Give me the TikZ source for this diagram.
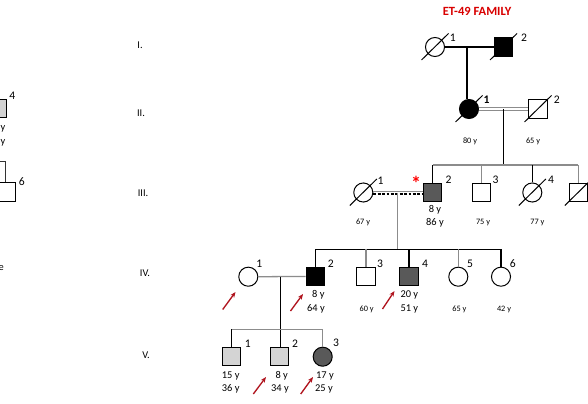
\documentclass[tikz,border=0pt]{standalone}
\usepackage{fontspec}
\setmainfont{Carlito}
\usetikzlibrary{arrows.meta}
\definecolor{linegray}{HTML}{8C8C8C}
\definecolor{darkfill}{HTML}{595959}
\definecolor{lightfill}{HTML}{D4D4D4}
\definecolor{arrowred}{HTML}{B0141E}
\tikzset{
  male/.style={draw, rectangle, minimum size=13.9pt, inner sep=0pt, line width=0.75pt},
  female/.style={draw, circle, minimum size=14.3pt, inner sep=0pt, line width=0.75pt},
  num/.style={font=\fontsize{8.7}{9}\selectfont, inner sep=0pt},
  agebig/.style={font=\fontsize{7.8}{8}\selectfont, inner sep=0pt},
  agesmall/.style={font=\fontsize{6.2}{7}\selectfont, inner sep=0pt},
  genlab/.style={font=\fontsize{7.8}{8}\selectfont, inner sep=0pt},
  blk/.style={line width=0.95pt, black},
  gry/.style={line width=0.95pt, linegray},
  deadline/.style={line width=0.75pt},
  redarrow/.style={-{Stealth[length=4.2pt,width=3.4pt]}, line width=1pt, arrowred},
}
\newcommand\deceasedmark[1]{\draw[deadline] ([shift={(-13.5,13)}]#1.center) -- ([shift={(13.5,-13.5)}]#1.center);}
\begin{document}
\begin{tikzpicture}[x=0.75pt,y=-0.75pt]
\useasboundingbox (0,0) rectangle (588,403);
\clip (0,0) rectangle (588,403);
\fill[white] (0,0) rectangle (588,403);

% title
\node[font=\fontsize{9.4}{10}\selectfont\bfseries, text=red!85!black] (title) at (477,11) {ET-49 FAMILY};

% generation labels
\node[genlab] (g1) at (140,45) {I.};
\node[genlab] (g2) at (141,113) {II.};
\node[genlab] (g3) at (143,193) {III.};
\node[genlab] (g4) at (145,273) {IV.};
\node[genlab] (g5) at (146,355) {V.};

% ---------- generation I ----------
\node[female] (i1) at (435,47) {};
\node[male, fill=black] (i2) at (503.5,47) {};
\deceasedmark{i1}
\deceasedmark{i2}
\node[num] (i1n) at (452.7,38) {1};
\node[num] (i2n) at (524,38) {2};
\coordinate (m1) at (467,47);
\draw[blk] (i1) -- (i2);

% ---------- generation II ----------
\node[female, fill=black] (ii1) at (469,109) {};
\node[male] (ii2) at (538,109) {};
\deceasedmark{ii1}
\deceasedmark{ii2}
\node[num, font=\fontsize{8.7}{9}\selectfont\bfseries] (ii1n) at (486.5,100) {1};
\node[num] (ii2n) at (556.7,100) {2};
\node[agesmall] (ii1a) at (470,141.5) {80 y};
\node[agesmall] (ii2a) at (533,141) {65 y};
\draw[blk] (m1) -- (m1 |- ii1.north);
\draw[draw=linegray, double=white, double distance=1.3pt, line width=0.6pt] (ii1) -- (ii2);
\coordinate (m2) at (503.5,109);
\coordinate (s3) at (503.5,165);
\draw[blk] (m2) -- (s3);

% ---------- generation III ----------
\node[female] (iii1) at (363.3,192.5) {};
\node[male, fill=darkfill] (iii2) at (432.5,192.5) {};
\node[male] (iii3) at (481.5,192.5) {};
\node[female] (iii4) at (532.3,192.5) {};
\node[male] (iii5) at (578.3,192.5) {};
\deceasedmark{iii1}
\deceasedmark{iii4}
\deceasedmark{iii5}
\node[num] (iii1n) at (380.5,180.5) {1};
\node[num] (iii2n) at (448.5,179.5) {2};
\node[num] (iii3n) at (495.5,179.5) {3};
\node[num] (iii4n) at (551,179.5) {4};
\node[font=\fontsize{15}{15}\selectfont\bfseries, text=red, inner sep=0pt] (star) at (416,183.5) {*};
\node[agebig] (iii2a) at (435,210) {8 y};
\node[agebig] (iii2b) at (435,222.5) {86 y};
\node[agesmall] (iii1a) at (363,222.5) {67 y};
\node[agesmall] (iii3a) at (483,223) {75 y};
\node[agesmall] (iii4a) at (537.3,223) {77 y};
\draw[gry] (iii2.north |- s3) -- (iii5.north |- s3);
\draw[blk] (iii2.north |- s3) -- (iii2.north);
\draw[gry] (iii3.north |- s3) -- (iii3.north);
\draw[blk] (iii4.north |- s3) -- (iii4.north);
\draw[gry] (iii5.north |- s3) -- (iii5.north);
% consanguineous union III-1 x III-2
\draw[linegray, line width=0.7pt] ([yshift=1.1pt]iii1.east) -- ([yshift=1.1pt]iii1.east -| iii2.west);
\draw[black, line width=1.2pt, dash pattern=on 2.2pt off 1.1pt] ([yshift=-0.9pt]iii1.east) -- ([yshift=-0.9pt]iii1.east -| iii2.west);
\coordinate (m3) at (397.7,192.5);
\coordinate (s4) at (397.7,249.3);
\draw[gry] (m3) -- (s4);

% ---------- generation IV ----------
\node[female] (iv1) at (248.3,276.7) {};
\node[male, fill=black] (iv2) at (315.5,276.5) {};
\node[male] (iv3) at (366,276.5) {};
\node[male, fill=darkfill] (iv4) at (409,276.5) {};
\node[female] (iv5) at (458.3,276.7) {};
\node[female] (iv6) at (501,276.7) {};
\node[num] (iv1n) at (259.3,263.5) {1};
\node[num] (iv2n) at (330.7,264) {2};
\node[num] (iv3n) at (380,264) {3};
\node[num] (iv4n) at (425,264) {4};
\node[num] (iv5n) at (470,264) {5};
\node[num] (iv6n) at (512.7,264) {6};
\node[agebig] (iv2a) at (318.3,295) {8 y};
\node[agebig] (iv2b) at (316,309.3) {64 y};
\node[agesmall] (iv3a) at (366.7,309.3) {60 y};
\node[agebig] (iv4a) at (409.3,295) {20 y};
\node[agebig] (iv4b) at (409.3,309.3) {51 y};
\node[agesmall] (iv5a) at (459.3,309.3) {65 y};
\node[agesmall] (iv6a) at (504,309.3) {42 y};
\draw[blk] (iv2.north |- s4) -- (iv6.north |- s4);
\draw[blk] (iv2.north |- s4) -- (iv2.north);
\draw[gry] (iv3.north |- s4) -- (iv3.north);
\draw[blk] (iv4.north |- s4) -- (iv4.north);
\draw[gry] (iv5.north |- s4) -- (iv5.north);
\draw[blk] (iv6.north |- s4) -- (iv6.north);
\draw[gry] (iv1) -- (iv2);
% probands
\coordinate (p1a) at (222.7,309.5);
\coordinate (p1b) at (235.5,292);
\coordinate (p2a) at (290.5,311);
\coordinate (p2b) at (303,294);
\coordinate (p3a) at (382.5,309);
\coordinate (p3b) at (394.5,291);
\draw[redarrow] (p1a) -- (p1b);
\draw[redarrow] (p2a) -- (p2b);
\draw[redarrow] (p3a) -- (p3b);

% ---------- generation V ----------
\node[male, fill=lightfill] (v1) at (231.3,356.7) {};
\node[male, fill=lightfill] (v2) at (279.3,356.7) {};
\node[female, fill=darkfill] (v3) at (322.7,356.7) {};
\node[num] (v1n) at (247.7,343.3) {1};
\node[num] (v2n) at (295,343.3) {2};
\node[num] (v3n) at (336,342.7) {3};
\node[agebig] (v1a) at (230.7,376) {15 y};
\node[agebig] (v1b) at (230.7,389.3) {36 y};
\node[agebig] (v2a) at (281.7,376) {8 y};
\node[agebig] (v2b) at (280,389.3) {34 y};
\node[agebig] (v3a) at (325,375.5) {17 y};
\node[agebig] (v3b) at (324,388.5) {25 y};
\coordinate (m4) at (280.5,276.7);
\coordinate (s5) at (280.5,329.3);
\draw[blk] (m4) -- (m4 |- v2.north);
\draw[gry] (v1.north |- s5) -- (v3.north |- s5);
\draw[blk] (v1.north |- s5) -- (v1.north);
\draw[gry] (v3.north |- s5) -- (v3.north);
\coordinate (p4a) at (253.3,394);
\coordinate (p4b) at (266,377);
\coordinate (p5a) at (300.7,394);
\coordinate (p5b) at (313,377);
\draw[redarrow] (p4a) -- (p4b);
\draw[redarrow] (p5a) -- (p5b);

% ---------- neighbouring pedigree, cut at the left edge ----------
\node[male, fill=gray!35, minimum size=13.5pt] (x4) at (-3,108) {};
\node[num] (x4n) at (12.3,96) {4};
\node[agebig, anchor=east] (x4a) at (5.5,128.5) {y};
\node[agebig, anchor=east] (x4b) at (5.5,143) {y};
\node[male, minimum size=14.3pt] (x6) at (5.5,192.3) {};
\node[num] (x6n) at (21.7,181.7) {6};
\coordinate (xs) at (-10,161.7);
\draw[line width=0.95pt, black!80] (xs) -- (xs -| x6.north) -- (x6.north);
\node[agebig, anchor=east] (xe) at (4,268.5) {e};
\end{tikzpicture}
\end{document}
